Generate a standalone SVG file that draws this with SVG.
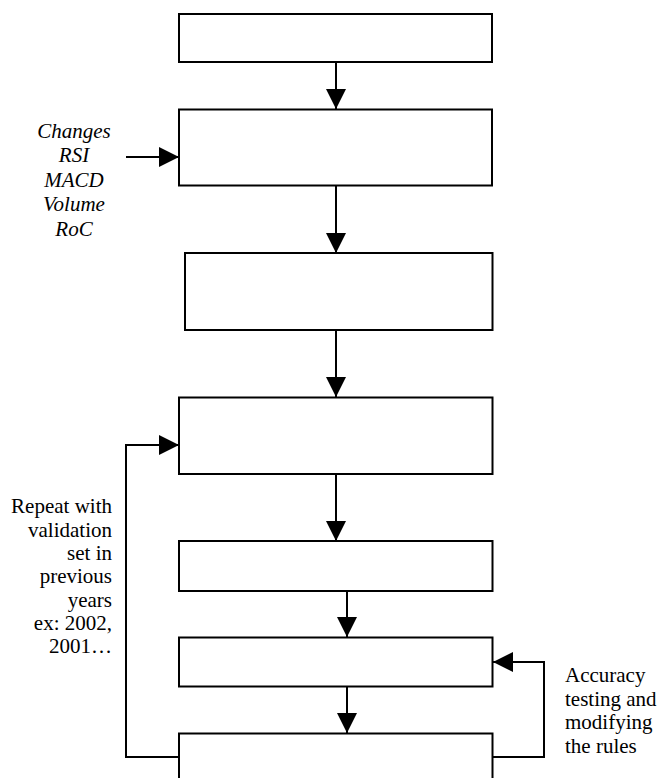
<svg xmlns="http://www.w3.org/2000/svg" width="659" height="778" viewBox="0 0 659 778">
<style>
.box{fill:#fff;stroke:#000;stroke-width:2}
.ln{fill:none;stroke:#000;stroke-width:2;marker-end:url(#ah)}
.pl{fill:none;stroke:#000;stroke-width:2}
text{font-family:"Liberation Serif","Times New Roman",serif;font-size:21px;fill:#000}
.it{font-style:italic;text-anchor:middle}
.r{text-anchor:end}
</style>
<defs>
<marker id="ah" markerUnits="userSpaceOnUse" markerWidth="21" markerHeight="21" refX="20" refY="10" orient="auto" viewBox="0 0 21 21">
<path d="M0,0 L20,10 L0,20 z" fill="#000"/>
</marker>
</defs>
<rect width="659" height="778" fill="#fff"/>
<g id="connectors">
<line class="ln" x1="336" y1="62" x2="336" y2="109"/>
<line class="ln" x1="126" y1="157" x2="179" y2="157"/>
<line class="ln" x1="336" y1="186" x2="336" y2="253"/>
<line class="ln" x1="336" y1="330" x2="336" y2="397"/>
<line class="ln" x1="336" y1="474" x2="336" y2="541"/>
<line class="ln" x1="347" y1="591" x2="347" y2="637"/>
<line class="ln" x1="347" y1="687" x2="347" y2="733"/>
<polyline class="pl" points="179,757 126,757 126,445 160,445"/>
<line class="ln" x1="150" y1="445" x2="179" y2="445"/>
<polyline class="pl" points="493,757 544,757 544,662 510,662"/>
<line class="ln" x1="520" y1="662" x2="493" y2="662"/>
</g>
<g id="n1"><rect class="box" x="179" y="14" width="313" height="48"/></g>
<g id="n2"><rect class="box" x="179" y="109.5" width="313" height="76"/></g>
<g id="n3"><rect class="box" x="185" y="253" width="307.5" height="77"/></g>
<g id="n4"><rect class="box" x="179" y="397.5" width="313.5" height="76.5"/></g>
<g id="n5"><rect class="box" x="179" y="541" width="313.5" height="50"/></g>
<g id="n6"><rect class="box" x="179" y="637.5" width="313.5" height="49"/></g>
<g id="n7"><rect class="box" x="179" y="733.5" width="313.5" height="60"/></g>
<g id="inputs">
<text class="it" x="74" y="138">Changes</text>
<text class="it" x="74" y="162">RSI</text>
<text class="it" x="74" y="187">MACD</text>
<text class="it" x="74" y="211">Volume</text>
<text class="it" x="74" y="236">RoC</text>
</g>
<g id="repeat-label">
<text class="r" x="112" y="513">Repeat with</text>
<text class="r" x="112" y="536.5">validation</text>
<text class="r" x="112" y="560">set in</text>
<text class="r" x="112" y="583">previous</text>
<text class="r" x="112" y="606.5">years</text>
<text class="r" x="112" y="630">ex: 2002,</text>
<text class="r" x="112" y="653">2001…</text>
</g>
<g id="accuracy-label">
<text x="565" y="682">Accuracy</text>
<text x="565" y="705.5">testing and</text>
<text x="565" y="729">modifying</text>
<text x="565" y="752.5">the rules</text>
</g>
</svg>
